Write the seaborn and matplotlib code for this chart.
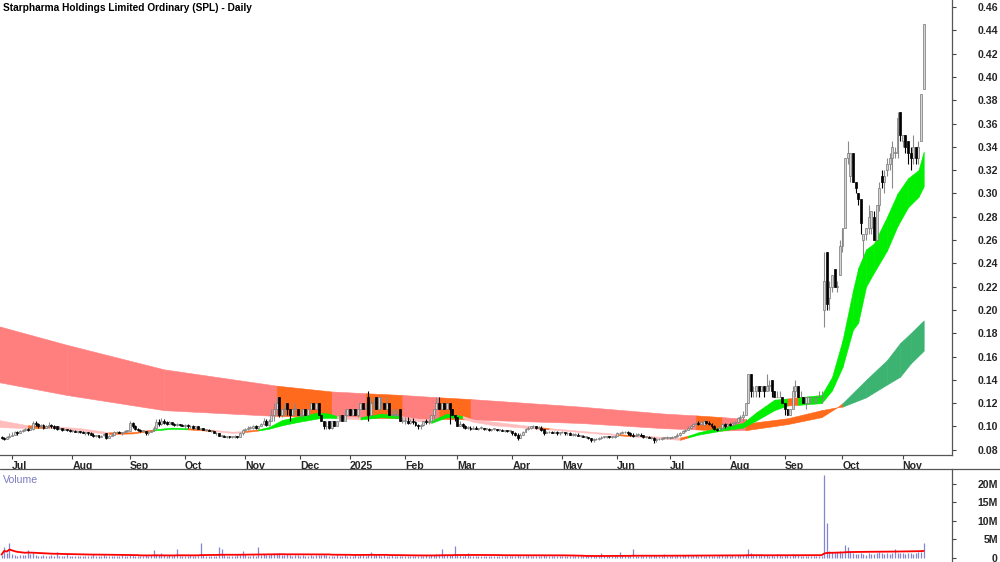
import numpy as np
import pandas as pd
import matplotlib
matplotlib.use("Agg")
import matplotlib.pyplot as plt
import matplotlib.transforms as mtransforms
from matplotlib.lines import Line2D
import seaborn as sns

TITLE = "Starpharma Holdings Limited Ordinary (SPL) - Daily"

# trading days shown per month (after the last 4 days of June 2024)
lead_days = 4
month_labels = ["Jul", "Aug", "Sep", "Oct", "Nov", "Dec", "2025", "Feb", "Mar",
                "Apr", "May", "Jun", "Jul", "Aug", "Sep", "Oct", "Nov"]
month_days = [23, 22, 21, 23, 21, 19, 21, 20, 21, 19, 21, 20, 23, 21, 22, 23, 9]

# daily prices, in cents (one line per month)
open_c = [
    9.1, 9.0, 8.9, 9.1,
    9.2, 9.3, 9.5, 9.4, 9.6, 9.7, 9.8, 9.7, 9.8, 10.3, 10.2, 10.0, 10.1, 9.9, 10.0, 10.1, 10.0, 10.0, 9.8, 9.9, 9.7, 9.8, 9.7,
    9.6, 9.6, 9.5, 9.6, 9.5, 9.4, 9.5, 9.4, 9.3, 9.2, 9.3, 9.1, 9.3, 9.4, 9.0, 9.2, 9.3, 9.5, 9.5, 9.4, 9.5, 9.6,
    9.6, 10.3, 10.0, 9.8, 9.7, 9.6, 9.6, 9.4, 9.5, 9.6, 9.9, 10.4, 10.2, 10.5, 10.4, 10.2, 10.4, 10.2, 10.1, 10.2, 10.1,
    10.0, 10.1, 10.0, 10.0, 9.9, 10.0, 9.8, 9.9, 9.7, 9.7, 9.6, 9.6, 9.4, 9.4, 9.2, 9.2, 9.1, 9.2, 9.1, 9.1, 9.2, 9.1, 9.4,
    9.7, 9.8, 9.9, 9.9, 10.0, 9.9, 10.0, 10.2, 10.5, 10.1, 10.5, 11.0, 11.5, 12.5, 11.0, 11.5, 12.0, 11.5, 11.0, 11.5, 11.5,
    11.0, 11.0, 11.5, 11.0, 11.5, 12.0, 11.5, 12.0, 11.0, 10.5, 10.0, 10.5, 9.9, 10.5, 10.0, 10.5, 11.0, 10.5, 11.0,
    11.5, 11.0, 11.5, 11.0, 11.5, 12.0, 11.5, 12.5, 11.0, 12.0, 12.5, 11.5, 12.0, 12.0, 11.5, 12.0, 11.0, 11.0, 11.0, 11.5, 10.5,
    10.5, 10.5, 10.3, 10.5, 10.4, 10.1, 10.0, 10.1, 10.5, 10.4, 10.5, 11.0, 11.5, 12.0, 11.5, 12.0, 11.5, 12.0, 11.5, 11.0,
    10.8, 10.0, 10.2, 10.0, 9.9, 9.9, 9.8, 9.9, 9.8, 9.9, 9.9, 9.8, 9.8, 9.7, 9.8, 9.8, 9.7, 9.7, 9.6, 9.7, 9.6,
    9.6, 9.4, 9.3, 9.0, 9.3, 9.5, 9.8, 9.9, 10.0, 10.0, 9.9, 9.9, 9.8, 9.4, 9.5, 9.5, 9.4, 9.5, 9.4,
    9.5, 9.5, 9.4, 9.4, 9.3, 9.3, 9.3, 9.2, 9.2, 9.1, 9.1, 9.0, 8.8, 8.9, 8.9, 9.0, 9.1, 9.1, 9.2, 9.1, 9.1,
    9.2, 9.4, 9.4, 9.5, 9.5, 9.4, 9.3, 9.2, 9.3, 9.3, 9.3, 9.1, 9.1, 9.0, 9.0, 8.8, 8.9, 8.9, 9.0, 9.0,
    9.0, 9.0, 9.1, 9.2, 9.3, 9.4, 9.6, 9.7, 9.9, 10.0, 10.2, 10.3, 10.2, 10.1, 10.5, 10.3, 10.2, 10.0, 9.8, 9.7, 9.9, 10.2, 10.0,
    10.2, 10.1, 10.3, 10.4, 10.7, 10.8, 11.0, 12.0, 14.5, 13.0, 13.0, 13.5, 13.0, 13.5, 13.0, 13.5, 14.0, 13.0, 12.5, 12.5, 12.5,
    12.0, 11.5, 11.0, 11.5, 13.0, 13.5, 12.5, 12.5, 12.0, 12.0, 12.5, 12.5, 12.5, 12.5, 12.5, 20.0, 25.0, 21.0, 22.0, 23.5, 22.0, 23.0,
    25.5, 27.0, 33.0, 31.5, 33.5, 31.0, 30.0, 29.5, 26.0, 26.5, 27.0, 27.0, 28.0, 26.0, 29.0, 31.5, 31.0, 32.0, 32.5, 33.0, 33.5, 33.5, 37.0,
    34.5, 35.0, 34.5, 33.5, 33.0, 34.0, 33.0, 34.5, 39.0,
]
high_c = [
    9.2, 9.1, 9.2, 9.4,
    9.5, 9.6, 9.6, 9.7, 9.8, 9.9, 9.9, 10.0, 10.5, 10.5, 10.3, 10.2, 10.2, 10.1, 10.4, 10.2, 10.1, 10.0, 10.0, 9.9, 9.9, 9.8, 9.8,
    9.7, 9.7, 9.6, 9.6, 9.6, 9.5, 9.5, 9.5, 9.4, 9.3, 9.3, 9.3, 9.4, 9.4, 9.3, 9.4, 9.6, 9.6, 9.6, 9.5, 9.7, 9.7,
    10.5, 10.4, 10.1, 9.9, 9.8, 9.7, 9.6, 9.6, 9.7, 10.0, 10.6, 10.6, 10.7, 10.6, 10.5, 10.5, 10.4, 10.3, 10.3, 10.2, 10.2,
    10.2, 10.2, 10.1, 10.1, 10.0, 10.0, 9.9, 9.9, 9.8, 9.8, 9.7, 9.6, 9.5, 9.4, 9.3, 9.3, 9.2, 9.2, 9.2, 9.3, 9.2, 9.5, 9.8,
    9.9, 10.0, 10.0, 10.1, 10.1, 10.0, 10.3, 10.7, 10.6, 10.6, 11.5, 12.0, 12.5, 12.5, 11.5, 12.0, 12.0, 11.5, 11.5, 12.0, 11.5,
    11.5, 11.5, 11.5, 11.5, 12.0, 12.0, 12.0, 12.0, 11.0, 10.5, 10.5, 10.5, 10.5, 10.5, 10.5, 11.0, 11.0, 11.5, 11.5,
    11.5, 11.5, 11.5, 11.5, 12.0, 12.0, 12.0, 13.0, 12.5, 12.5, 12.5, 12.5, 12.5, 12.0, 12.5, 12.0, 11.5, 11.5, 11.5, 11.5, 10.8,
    10.8, 10.8, 10.6, 10.7, 10.5, 10.2, 10.2, 10.5, 10.6, 10.6, 11.0, 11.5, 12.5, 12.5, 12.0, 12.0, 12.0, 12.0, 11.5, 11.0,
    10.8, 10.5, 10.3, 10.1, 10.0, 10.0, 10.0, 10.0, 9.9, 10.0, 9.9, 9.9, 9.9, 9.8, 9.9, 9.8, 9.8, 9.8, 9.7, 9.7, 9.7,
    9.6, 9.5, 9.4, 9.4, 9.6, 9.9, 10.0, 10.0, 10.1, 10.0, 10.0, 10.0, 9.8, 9.6, 9.6, 9.6, 9.6, 9.6, 9.5,
    9.6, 9.5, 9.5, 9.5, 9.4, 9.4, 9.4, 9.3, 9.3, 9.2, 9.1, 9.0, 9.0, 9.0, 9.1, 9.2, 9.2, 9.2, 9.2, 9.2, 9.3,
    9.5, 9.5, 9.6, 9.6, 9.6, 9.5, 9.4, 9.4, 9.4, 9.4, 9.3, 9.2, 9.2, 9.1, 9.1, 9.0, 9.0, 9.1, 9.1, 9.2,
    9.1, 9.2, 9.2, 9.4, 9.5, 9.7, 9.8, 10.0, 10.1, 10.3, 10.5, 10.5, 10.5, 10.6, 10.5, 10.5, 10.3, 10.1, 9.9, 10.0, 10.3, 10.3, 10.3,
    10.3, 10.4, 10.5, 10.8, 11.0, 11.3, 12.0, 14.5, 14.5, 13.5, 13.5, 13.5, 13.5, 13.5, 14.5, 14.0, 14.0, 13.0, 13.0, 13.0, 12.5,
    12.0, 11.5, 11.5, 13.5, 14.0, 13.5, 13.0, 12.5, 12.5, 12.5, 12.5, 12.5, 12.5, 13.0, 13.0, 25.0, 25.0, 22.5, 23.0, 23.5, 22.5, 26.0,
    27.0, 33.0, 34.5, 33.5, 33.5, 31.0, 30.0, 29.5, 26.5, 27.0, 29.0, 28.5, 28.5, 29.0, 31.0, 32.0, 32.0, 33.0, 33.5, 34.5, 34.0, 37.0, 37.0,
    35.0, 35.0, 34.5, 34.0, 35.0, 34.0, 34.5, 38.5, 44.5,
]
low_c = [
    8.9, 8.8, 8.9, 9.0,
    9.2, 9.3, 9.3, 9.4, 9.5, 9.6, 9.6, 9.7, 9.7, 10.0, 9.9, 9.9, 9.8, 9.9, 9.9, 9.9, 9.8, 9.7, 9.8, 9.6, 9.7, 9.6, 9.5,
    9.5, 9.5, 9.4, 9.4, 9.4, 9.3, 9.3, 9.3, 9.1, 9.1, 9.0, 9.1, 9.2, 8.9, 9.0, 9.2, 9.3, 9.4, 9.4, 9.3, 9.5, 9.5,
    9.6, 9.9, 9.7, 9.6, 9.5, 9.5, 9.3, 9.3, 9.5, 9.6, 9.8, 10.0, 10.1, 10.2, 10.1, 10.2, 10.1, 10.0, 10.0, 10.0, 10.0,
    9.9, 9.9, 9.9, 9.8, 9.8, 9.8, 9.7, 9.7, 9.6, 9.6, 9.5, 9.4, 9.3, 9.2, 9.1, 9.1, 9.0, 9.0, 9.0, 9.0, 9.0, 9.1, 9.3,
    9.6, 9.7, 9.8, 9.8, 9.8, 9.8, 10.0, 10.1, 10.0, 10.0, 10.5, 10.5, 11.0, 10.8, 10.8, 11.0, 11.0, 10.5, 11.0, 11.0, 11.0,
    10.8, 10.8, 11.0, 11.0, 11.5, 11.5, 11.5, 11.0, 10.5, 9.8, 9.8, 9.8, 9.8, 10.0, 10.0, 10.5, 10.5, 10.5, 11.0,
    11.0, 11.0, 11.0, 10.8, 11.5, 11.5, 11.5, 10.5, 11.0, 11.5, 11.5, 11.5, 11.5, 11.5, 11.5, 11.0, 11.0, 10.8, 11.0, 10.5, 10.3,
    10.2, 10.2, 10.2, 10.2, 10.0, 9.8, 9.8, 10.0, 10.2, 10.2, 10.5, 10.5, 11.5, 11.5, 11.5, 11.5, 11.5, 10.2, 11.0, 10.5,
    10.0, 10.0, 9.9, 9.8, 9.8, 9.7, 9.8, 9.8, 9.7, 9.8, 9.7, 9.7, 9.6, 9.6, 9.7, 9.6, 9.6, 9.6, 9.5, 9.5, 9.5,
    9.3, 9.2, 8.8, 9.0, 9.3, 9.5, 9.7, 9.8, 9.9, 9.8, 9.8, 9.6, 9.3, 9.4, 9.4, 9.4, 9.4, 9.3, 9.3,
    9.4, 9.3, 9.3, 9.3, 9.2, 9.2, 9.2, 9.1, 9.1, 9.0, 8.9, 8.7, 8.7, 8.8, 8.8, 8.9, 9.0, 9.0, 9.0, 9.0, 9.0,
    9.2, 9.3, 9.4, 9.4, 9.3, 9.2, 9.1, 9.2, 9.2, 9.2, 9.0, 9.0, 9.0, 8.9, 8.6, 8.7, 8.8, 8.8, 8.9, 8.9,
    8.9, 9.0, 9.0, 9.1, 9.2, 9.4, 9.5, 9.7, 9.8, 10.0, 10.1, 10.1, 10.1, 10.1, 10.2, 10.1, 9.9, 9.7, 9.6, 9.7, 9.8, 9.9, 9.9,
    10.0, 10.0, 10.1, 10.3, 10.5, 10.5, 11.0, 12.0, 12.5, 12.5, 12.5, 12.5, 13.0, 12.5, 13.0, 13.0, 12.5, 12.5, 12.5, 12.5, 12.0,
    11.0, 11.0, 11.0, 11.5, 12.5, 12.5, 12.5, 12.0, 11.5, 12.0, 12.0, 12.0, 12.0, 12.5, 12.0, 18.5, 20.0, 20.0, 21.5, 22.0, 21.5, 23.0,
    25.0, 27.0, 32.5, 31.0, 31.0, 30.0, 29.0, 26.5, 24.5, 26.0, 26.5, 26.5, 26.0, 26.0, 28.5, 30.5, 30.0, 31.5, 32.0, 30.5, 33.0, 33.0, 34.5,
    34.0, 33.5, 32.5, 32.0, 32.5, 32.5, 32.5, 34.5, 39.0,
]
close_c = [
    9.0, 8.9, 9.1, 9.2,
    9.3, 9.5, 9.4, 9.6, 9.7, 9.8, 9.7, 9.9, 10.3, 10.2, 10.0, 10.1, 9.9, 10.0, 10.1, 10.0, 9.9, 9.8, 9.9, 9.7, 9.8, 9.7, 9.6,
    9.6, 9.5, 9.6, 9.5, 9.4, 9.5, 9.4, 9.3, 9.2, 9.3, 9.1, 9.2, 9.3, 9.0, 9.2, 9.3, 9.5, 9.5, 9.4, 9.5, 9.6, 9.6,
    10.3, 10.0, 9.8, 9.7, 9.6, 9.6, 9.4, 9.5, 9.6, 9.9, 10.4, 10.2, 10.5, 10.3, 10.2, 10.4, 10.2, 10.1, 10.2, 10.1, 10.0,
    10.1, 10.0, 10.0, 9.9, 10.0, 9.8, 9.9, 9.7, 9.7, 9.6, 9.6, 9.4, 9.4, 9.2, 9.2, 9.1, 9.2, 9.1, 9.1, 9.2, 9.1, 9.4, 9.7,
    9.8, 9.9, 9.9, 10.0, 9.9, 10.0, 10.2, 10.5, 10.1, 10.5, 11.0, 11.5, 12.0, 11.0, 11.5, 11.5, 11.5, 11.0, 11.5, 11.5, 11.0,
    11.0, 11.5, 11.0, 11.5, 12.0, 11.5, 12.0, 11.0, 10.5, 10.0, 10.0, 9.9, 10.5, 10.0, 10.5, 11.0, 10.5, 11.0, 11.5,
    11.0, 11.5, 11.0, 11.5, 12.0, 11.5, 11.5, 11.0, 12.0, 12.0, 11.5, 12.5, 12.0, 11.5, 12.0, 11.0, 11.0, 11.0, 11.0, 10.5, 10.5,
    10.5, 10.3, 10.5, 10.4, 10.1, 10.0, 10.1, 10.5, 10.4, 10.5, 11.0, 11.5, 12.0, 11.5, 12.0, 11.5, 12.0, 11.5, 11.0, 10.8,
    10.0, 10.2, 10.0, 9.9, 9.9, 9.8, 9.9, 9.8, 9.9, 9.9, 9.8, 9.8, 9.7, 9.8, 9.8, 9.7, 9.7, 9.6, 9.7, 9.6, 9.6,
    9.4, 9.3, 9.0, 9.3, 9.5, 9.8, 9.9, 10.0, 10.0, 9.9, 9.9, 9.7, 9.4, 9.5, 9.5, 9.4, 9.5, 9.4, 9.5,
    9.5, 9.4, 9.4, 9.3, 9.3, 9.3, 9.2, 9.2, 9.1, 9.1, 9.0, 8.8, 8.9, 8.9, 9.0, 9.1, 9.1, 9.2, 9.1, 9.1, 9.2,
    9.4, 9.4, 9.5, 9.5, 9.4, 9.3, 9.2, 9.3, 9.3, 9.2, 9.1, 9.1, 9.0, 9.0, 8.8, 8.9, 8.9, 9.0, 9.0, 9.1,
    9.0, 9.1, 9.2, 9.3, 9.4, 9.6, 9.7, 9.9, 10.0, 10.2, 10.3, 10.2, 10.4, 10.5, 10.3, 10.2, 10.0, 9.8, 9.7, 9.9, 10.2, 10.0, 10.2,
    10.1, 10.3, 10.4, 10.7, 10.8, 11.0, 12.0, 14.5, 13.0, 13.0, 13.5, 13.0, 13.5, 13.0, 13.5, 13.5, 13.0, 12.5, 12.5, 12.5, 12.0,
    11.5, 11.0, 11.5, 13.0, 13.5, 12.5, 12.5, 12.0, 12.5, 12.5, 12.5, 12.5, 12.5, 12.5, 12.5, 22.5, 20.5, 22.0, 23.0, 22.0, 22.0, 25.5,
    27.0, 33.0, 33.5, 33.5, 31.0, 30.5, 29.5, 27.5, 26.5, 27.0, 28.0, 28.5, 26.0, 29.0, 30.5, 31.0, 31.5, 32.5, 33.0, 34.0, 33.5, 36.5, 35.0,
    35.0, 34.0, 33.5, 33.0, 34.0, 33.0, 34.0, 38.5, 44.5,
]

# daily volume, millions of shares
volume_m = [
    0.8, 2.8, 1.2, 3.9,
    1.0, 0.6, 0.5, 0.8, 0.7, 0.6, 2.0, 0.9, 1.2, 0.8, 0.5, 0.4, 0.6, 0.5, 0.4, 0.6, 0.5, 1.4, 0.4, 0.3, 0.5, 0.9, 0.3,
    0.4, 0.3, 0.5, 0.3, 0.4, 0.3, 0.5, 0.4, 0.9, 0.5, 0.4, 0.3, 0.6, 0.4, 0.3, 0.5, 0.4, 0.3, 0.4, 0.6, 0.5, 0.4,
    0.9, 0.7, 0.5, 0.4, 0.5, 0.4, 0.6, 0.5, 0.7, 2.0, 1.0, 0.8, 1.2, 0.6, 0.5, 0.7, 0.5, 0.6, 2.4, 0.5, 0.4,
    0.5, 0.4, 0.6, 0.5, 0.4, 0.5, 4.0, 0.6, 0.4, 0.5, 0.3, 0.4, 0.5, 2.9, 2.2, 0.6, 0.4, 0.5, 0.3, 0.4, 0.6, 0.8, 1.8,
    0.6, 0.5, 0.4, 0.6, 0.5, 2.9, 0.7, 0.9, 0.6, 0.8, 1.0, 1.2, 1.0, 1.1, 0.8, 0.7, 0.9, 0.6, 0.5, 0.7, 0.6,
    0.5, 0.6, 0.4, 0.5, 0.7, 0.5, 0.6, 0.8, 0.7, 0.9, 0.6, 0.5, 0.4, 0.5, 0.6, 0.4, 0.5, 0.6, 0.5,
    0.5, 0.4, 0.6, 0.5, 0.7, 0.6, 0.5, 1.0, 1.6, 0.8, 0.6, 0.7, 0.5, 0.6, 0.5, 0.4, 0.6, 0.5, 0.4, 0.5, 0.4,
    0.4, 0.5, 0.3, 0.4, 0.5, 0.4, 0.3, 0.5, 0.6, 0.5, 0.7, 0.8, 1.0, 0.9, 2.4, 0.8, 0.7, 0.6, 0.9, 3.2,
    0.8, 0.6, 0.5, 0.7, 1.2, 0.5, 0.4, 0.3, 0.4, 0.3, 0.4, 0.5, 0.3, 0.4, 0.3, 0.4, 0.5, 0.3, 0.4, 0.3, 0.4,
    0.5, 0.4, 0.6, 0.5, 0.4, 0.5, 0.6, 0.4, 0.3, 0.4, 0.3, 0.5, 0.6, 0.4, 0.3, 0.4, 0.3, 0.4, 0.3,
    0.3, 0.4, 0.3, 0.4, 0.3, 0.4, 0.5, 0.3, 0.4, 0.3, 0.5, 0.6, 0.4, 0.5, 0.4, 1.2, 0.4, 0.3, 0.4, 0.5, 0.4,
    0.5, 1.4, 0.6, 0.4, 0.5, 0.4, 2.4, 0.5, 0.4, 0.3, 0.4, 0.5, 0.4, 0.3, 0.6, 0.4, 0.3, 0.4, 1.0, 0.4,
    0.4, 0.5, 0.4, 0.6, 0.5, 0.7, 0.6, 0.8, 0.5, 0.6, 0.7, 0.5, 0.6, 0.4, 0.5, 0.6, 0.4, 0.5, 0.4, 0.6, 0.7, 0.5, 0.6,
    0.5, 0.6, 0.5, 0.7, 0.6, 0.8, 1.0, 2.4, 1.2, 0.8, 0.7, 0.6, 0.8, 0.7, 0.6, 0.5, 0.6, 0.5, 1.0, 0.6, 0.5,
    0.7, 0.6, 0.5, 0.9, 0.8, 0.6, 0.5, 0.4, 0.5, 0.4, 0.5, 0.4, 0.3, 0.4, 0.5, 22.5, 9.4, 1.8, 1.6, 1.2, 1.4, 1.8,
    1.3, 3.4, 2.9, 1.5, 1.1, 1.0, 0.9, 1.2, 1.0, 0.8, 1.1, 0.9, 1.0, 1.2, 1.6, 1.1, 1.0, 1.2, 0.9, 1.3, 2.4, 1.1, 1.3,
    1.2, 1.0, 1.3, 1.1, 0.9, 1.2, 1.4, 1.6, 3.9,
]

# long-term MA ribbon: knots (day index, top, bottom in cents) and trend state per segment
slow_x = [-1, 25, 62, 105, 126, 139, 153, 167, 179, 221, 253, 265, 275, 284, 284,
          300, 313, 319, 321, 330, 338, 343, 347, 352]
slow_top = [18.6, 17.0, 14.9, 13.5, 13.0, 12.85, 12.7, 12.5, 12.35, 11.7, 11.1, 10.95, 10.8,
            10.65, 10.25, 10.7, 11.4, 11.65, 12.0, 14.0, 15.7, 17.16, 18.0, 19.1]
slow_bot = [13.8, 12.7, 11.4, 10.9, 10.8, 10.75, 10.7, 10.65, 10.6, 10.3, 9.85, 9.75, 9.65,
            9.7, 9.68, 10.2, 10.8, 11.65, 11.7, 12.5, 13.6, 14.27, 15.4, 16.5]
slow_state = "rrrorororrrorooooogggggg"[:-1]

# short-term MA ribbon
fast_x = [-1, 10, 18, 30, 41, 50, 58, 65, 71, 81, 88, 92, 98, 102, 107, 113, 121, 125,
          128, 137, 145, 152, 164, 170, 176, 180, 188, 205, 209, 235, 241, 253, 259, 262,
          266, 275, 283, 288, 295, 300, 304, 313, 317, 321, 325, 327, 330, 333, 338, 342,
          346, 350, 352]
fast_top = [10.55, 10.10, 10.05, 9.85, 9.50, 9.50, 9.75, 9.90, 9.85, 9.70, 9.55, 9.60, 9.75,
            9.95, 10.55, 10.85, 11.20, 11.10, 10.90, 10.80, 11.10, 10.90, 10.50, 11.10, 10.90,
            10.60, 10.40, 9.95, 9.86, 9.35, 9.25, 9.10, 9.05, 9.20, 9.50, 9.95, 10.30, 11.20,
            12.30, 12.40, 12.50, 12.70, 14.25, 17.40, 21.70, 23.60, 25.20, 25.70, 28.00, 30.00,
            31.30, 32.00, 33.60]
fast_bot = [9.95, 9.85, 9.90, 9.65, 9.35, 9.40, 9.65, 9.80, 9.75, 9.60, 9.45, 9.50, 9.65,
            9.80, 10.10, 10.38, 10.70, 10.75, 10.70, 10.60, 10.80, 10.70, 10.30, 10.80, 10.70,
            10.40, 10.10, 9.80, 9.75, 9.25, 9.15, 8.95, 8.85, 9.05, 9.30, 9.65, 9.90, 10.50,
            11.40, 11.80, 11.85, 12.00, 13.10, 15.10, 18.30, 18.90, 22.00, 23.20, 25.10, 27.20,
            28.80, 29.70, 30.60]
fast_state = "poppooggop" + "poggggggpg" + "gpggpppopo" + "ppoggggggo" + "g" * 12

SLOW_COLORS = {"r": "#FF7F7F", "o": "#FF6A1C", "g": "#3CB371"}
FAST_COLORS = {"p": "#FFBDBD", "o": "#FF6A1C", "g": "#00EE00"}

sns.set_theme(style="white")
plt.rcParams["font.family"] = ["Liberation Sans", "DejaVu Sans"]

n = len(close_c)
days = np.arange(n)
o = np.array(open_c)
h = np.array(high_c)
l = np.array(low_c)
c = np.array(close_c)
vol = pd.Series(volume_m)
vol_ma = vol.rolling(50, min_periods=1).mean()

W, H = 1000, 562
fig = plt.figure(figsize=(W / 100, H / 100), dpi=100)
ax = fig.add_axes([0, 1 - 455 / H, 952 / W, 455 / H])
axv = fig.add_axes([0, 0, 952 / W, 93 / H])

# ribbons
for k, s in enumerate(slow_state):
    col = SLOW_COLORS[s]
    ax.fill_between(slow_x[k:k + 2], slow_top[k:k + 2], slow_bot[k:k + 2],
                    color=col, lw=0.4, edgecolor=col, zorder=1)
for k, s in enumerate(fast_state):
    col = FAST_COLORS[s]
    ax.fill_between(fast_x[k:k + 2], fast_top[k:k + 2], fast_bot[k:k + 2],
                    color=col, lw=0.4, edgecolor=col, zorder=2)

# candles
up = c >= o
body_lo = np.minimum(o, c)
body_h = np.maximum(np.abs(c - o), 0.06)
ax.vlines(days[up], l[up], h[up], color="#8A8A8A", lw=0.8, zorder=3)
ax.vlines(days[~up], l[~up], h[~up], color="black", lw=0.8, zorder=3)
ax.bar(days[up], body_h[up], bottom=body_lo[up], width=0.75, color="#D4D4D4",
       edgecolor="#777777", linewidth=0.5, zorder=4)
ax.bar(days[~up], body_h[~up], bottom=body_lo[~up], width=0.75, color="black",
       edgecolor="black", linewidth=0.5, zorder=4)

xmin, xmax = -0.6, 362.8
ax.set_xlim(xmin, xmax)
ax.set_ylim(7.55, 46.6)

# month ticks
starts = lead_days + np.concatenate([[0], np.cumsum(month_days)[:-1]])
ax.set_xticks(starts)
ax.set_xticklabels(month_labels, fontsize=7.6, fontweight="bold", ha="left")
offset = mtransforms.ScaledTranslation(2 / 100, 0, fig.dpi_scale_trans)
for lbl in ax.get_xticklabels():
    lbl.set_transform(lbl.get_transform() + offset)
ax.tick_params(axis="x", bottom=True, length=3, width=0.8, color="#444444", pad=1.5)

yt = np.arange(8, 47, 2)
ax.yaxis.tick_right()
ax.set_yticks(yt)
ax.set_yticklabels([f"{v / 100:.2f}" for v in yt], fontsize=7.6, fontweight="bold")
ax.tick_params(axis="y", right=True, left=False, length=3, width=0.8, color="#444444", pad=30)
for lbl in ax.get_yticklabels():
    lbl.set_horizontalalignment("right")

for side in ["left", "top"]:
    ax.spines[side].set_visible(False)
for side in ["right", "bottom"]:
    ax.spines[side].set_color("#555555")
    ax.spines[side].set_linewidth(0.9)
ax.grid(False)

fig.text(3 / W, 1 - 3 / H, TITLE, ha="left", va="top", fontsize=7.3, fontweight="bold", color="black")

# volume panel
axv.vlines(days, 0, vol, color="#8484D0", lw=0.9)
sns.lineplot(x=days, y=vol_ma.values, ax=axv, color="#FF0000", linewidth=1.3)
axv.set_xlim(xmin, xmax)
axv.set_ylim(-1.22, 24.08)
axv.set_xticks([])
axv.yaxis.tick_right()
vt = [0, 5, 10, 15, 20]
axv.set_yticks(vt)
axv.set_yticklabels(["0" if v == 0 else f"{v}M" for v in vt], fontsize=7.6, fontweight="bold")
axv.tick_params(axis="y", right=True, left=False, length=3, width=0.8, color="#444444", pad=30)
for lbl in axv.get_yticklabels():
    lbl.set_horizontalalignment("right")
for side in ["left", "top", "bottom"]:
    axv.spines[side].set_visible(False)
axv.spines["right"].set_color("#555555")
axv.spines["right"].set_linewidth(0.9)
axv.set_xlabel("")
axv.set_ylabel("")
axv.grid(False)
axv.text(3 / 952, 0.94, "Volume", transform=axv.transAxes, ha="left", va="top",
         fontsize=7.6, color="#7B7BC0")

fig.add_artist(Line2D([0, 1], [93 / H, 93 / H], transform=fig.transFigure,
                      color="#555555", lw=0.9))

fig.savefig("out.png", dpi=100)
